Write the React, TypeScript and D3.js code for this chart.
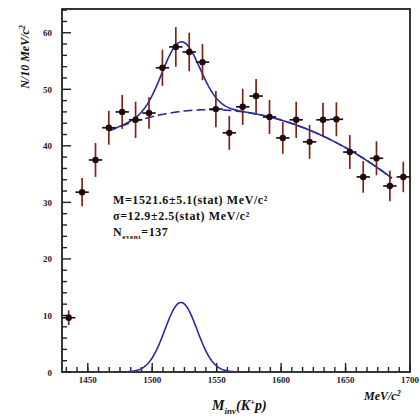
import React from "react";
import * as d3 from "d3";

// ---- data ----
const binMass = [1435.2, 1445.6, 1456.0, 1466.3, 1476.7, 1487.1, 1497.5, 1507.9, 1518.3, 1528.7, 1539.0, 1549.4, 1559.8, 1570.2, 1580.6, 1591.0, 1601.3, 1611.7, 1622.1, 1632.5, 1642.9, 1653.3, 1663.7, 1674.0, 1684.4, 1694.8];
const counts = [9.6, 31.8, 37.5, 43.2, 46.0, 44.6, 45.8, 53.8, 57.5, 56.6, 54.8, 46.5, 42.3, 46.9, 48.8, 45.1, 41.4, 44.6, 40.7, 44.6, 44.7, 38.9, 34.5, 37.8, 32.9, 34.5];
const errors = [1.3, 2.5, 3.0, 3.0, 3.0, 3.2, 2.8, 3.2, 3.5, 3.4, 3.2, 3.2, 3.0, 3.2, 3.0, 3.0, 2.8, 3.2, 3.0, 3.0, 3.0, 3.0, 2.8, 3.0, 2.7, 2.7];
const binHalfWidth = 5.19;

const xTicks = [1450, 1500, 1550, 1600, 1650, 1700];
const yTicks = [0, 10, 20, 30, 40, 50, 60];

// fit parameters (signal gaussian + quadratic background)
const fitRange = [1466, 1686];
const sigMean = 1522.3;
const sigAmp = 12.3;
const sigSigmaFit = 14.5;
const sigSigmaShown = 12.5;
const signalRange = [1480, 1565];
const bgPeakMass = 1545;
const bgMax = 46.4;
const bgCurv = 0.00061;

const statLines = [
  "M=1521.6±5.1(stat) MeV/c²",
  "σ=12.9±2.5(stat) MeV/c²",
];
const nLabel = { main: "N", sub: "event", value: "=137" };

const W = 420, H = 418;
const L = 62, R = 410, T = 9, B = 372;

export default function App() {
  const x = d3.scaleLinear().domain([1430, 1700]).range([L, R]);
  const y = d3.scaleLinear().domain([0, 64.2]).range([B, T]);

  const bg = (m: number) => bgMax - bgCurv * (m - bgPeakMass) ** 2;
  const gauss = (m: number, s: number) => sigAmp * Math.exp(-((m - sigMean) ** 2) / (2 * s * s));

  const sample = (a: number, b: number, n: number) => d3.range(n + 1).map((i) => a + ((b - a) * i) / n);
  const line = d3.line<[number, number]>().x((d) => x(d[0])).y((d) => y(d[1]));

  const fitPts = sample(fitRange[0], fitRange[1], 300);
  const totalPath = line(fitPts.map((m) => [m, bg(m) + gauss(m, sigSigmaFit)]))!;
  const bgPath = line(fitPts.map((m) => [m, bg(m)]))!;
  const sigPts = sample(signalRange[0], signalRange[1], 200);
  const sigPath = line(sigPts.map((m) => [m, gauss(m, sigSigmaShown)]))!;

  const yMinor = d3.range(0, 64.1, 2);
  const xMinor = d3.range(0, 33).map((i) => 1450 - 25 + (i * 50) / 6).filter((v) => v >= 1430 && v <= 1700);

  const axisColor = "#222";
  const curveColor = "#2b2b9c";

  return (
    <svg width={W} height={H} style={{ position: "absolute", left: 0, top: 0, background: "#fff" }}
      fontFamily="'Liberation Serif', 'DejaVu Serif', serif">
      {/* minor ticks */}
      {yMinor.map((v) => (
        <line key={"ym" + v} x1={L} x2={L + (v % 10 === 0 ? 9 : 5)} y1={y(v)} y2={y(v)} stroke={axisColor} strokeWidth={1.4} />
      ))}
      {xMinor.map((v, i) => (
        <line key={"xm" + i} x1={x(v)} x2={x(v)} y1={B} y2={B - 5} stroke={axisColor} strokeWidth={1.4} />
      ))}
      {xTicks.map((v) => (
        <line key={"xt" + v} x1={x(v)} x2={x(v)} y1={B} y2={B - 9} stroke={axisColor} strokeWidth={1.4} />
      ))}
      {/* frame */}
      <rect x={L} y={T} width={R - L} height={B - T} fill="none" stroke={axisColor} strokeWidth={1.8} />

      {/* tick labels */}
      {yTicks.map((v) => (
        <text key={"yl" + v} x={52} y={y(v) + 3.5} textAnchor="end" fontSize={9} fontWeight="bold" fill="#222">{v}</text>
      ))}
      {xTicks.map((v) => (
        <text key={"xl" + v} x={x(v)} y={383} textAnchor="middle" fontSize={9} fontWeight="bold" fill="#222">{v}</text>
      ))}

      {/* fit curves */}
      <path d={bgPath} fill="none" stroke={curveColor} strokeWidth={1.6} strokeDasharray="9,4" />
      <path d={totalPath} fill="none" stroke={curveColor} strokeWidth={1.6} />
      <path d={sigPath} fill="none" stroke={curveColor} strokeWidth={1.6} />

      {/* data points */}
      {binMass.map((m, i) => (
        <g key={"p" + i}>
          <line x1={x(m)} x2={x(m)} y1={y(counts[i] - errors[i])} y2={y(counts[i] + errors[i])} stroke="#7a2418" strokeWidth={1.7} />
          <line x1={x(m - binHalfWidth)} x2={x(m + binHalfWidth)} y1={y(counts[i])} y2={y(counts[i])} stroke="#2a1014" strokeWidth={1.7} />
          <circle cx={x(m)} cy={y(counts[i])} r={3.2} fill="#1c0a0c" />
        </g>
      ))}

      {/* stat text */}
      <g fontSize={12} fontWeight="bold" fill="#111" letterSpacing={0.6}>
        <text x={113} y={204}>{statLines[0]}</text>
        <text x={113} y={220}>{statLines[1]}</text>
        <text x={113} y={236}>
          {nLabel.main}
          <tspan dy={3} fontSize={7}>{nLabel.sub}</tspan>
          <tspan dy={-3}>{nLabel.value}</tspan>
        </text>
      </g>

      {/* axis titles */}
      <text transform="translate(29,57) rotate(-90)" textAnchor="middle" fontSize={12} fontWeight="bold" fontStyle="italic" fill="#111">
        N/10 MeV/c<tspan dy={-4} fontSize={8}>2</tspan>
      </text>
      <text x={212} y={410} fontSize={14} fontWeight="bold" fontStyle="italic" fill="#111">
        M<tspan dy={4} fontSize={9}>inv</tspan><tspan dy={-4}>(K</tspan><tspan dy={-5} fontSize={9}>+</tspan><tspan dy={5}>p)</tspan>
      </text>
      <text x={364} y={400} fontSize={12} fontWeight="bold" fontStyle="italic" fill="#111">
        MeV/c<tspan dy={-4} fontSize={8}>2</tspan>
      </text>
    </svg>
  );
}
